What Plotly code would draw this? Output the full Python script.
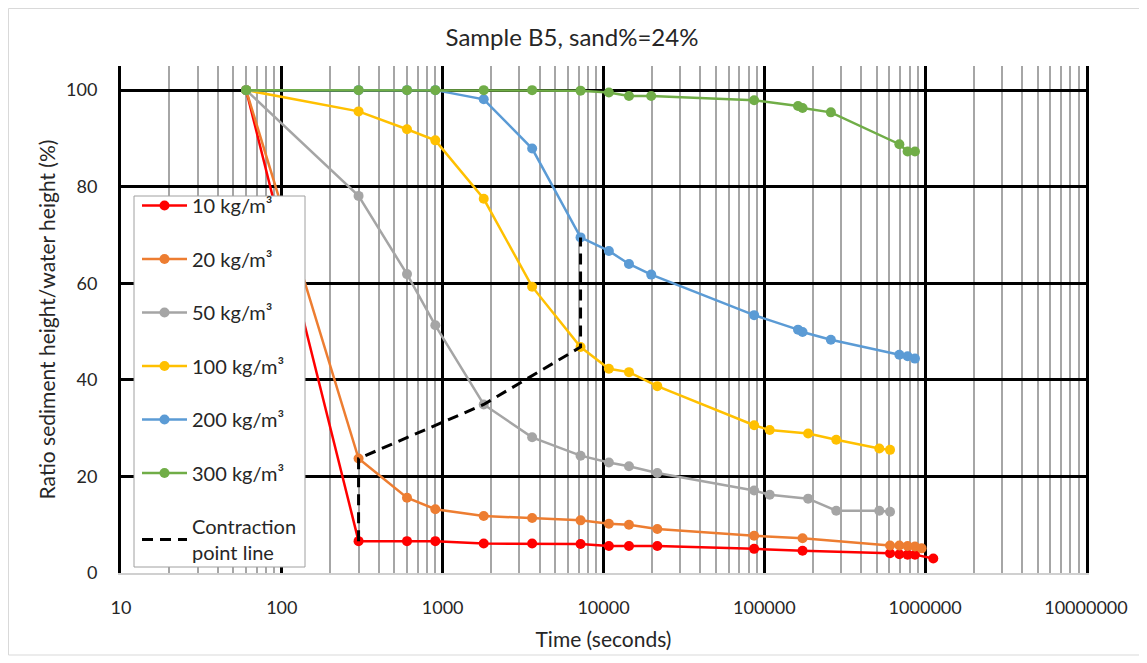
import plotly.graph_objects as go

# ---- data ----
t_red = [60, 300, 600, 900, 1800, 3600, 7200, 10800, 14400, 21600, 86400, 172800, 604800, 691200, 777600, 864000, 1123200]
v_red = [100, 6.6, 6.6, 6.6, 6.1, 6.1, 6.0, 5.6, 5.6, 5.6, 5.0, 4.6, 4.1, 3.9, 3.8, 3.8, 3.0]

t_orange = [60, 300, 600, 900, 1800, 3600, 7200, 10800, 14400, 21600, 86400, 172800, 604800, 691200, 777600, 864000, 950400]
v_orange = [100, 23.7, 15.6, 13.2, 11.8, 11.4, 10.9, 10.2, 10.0, 9.1, 7.7, 7.2, 5.7, 5.7, 5.6, 5.5, 5.1]

t_gray = [60, 300, 600, 900, 1800, 3600, 7200, 10800, 14400, 21600, 86400, 108000, 187200, 280000, 518400, 604800]
v_gray = [100, 78.1, 61.9, 51.3, 34.9, 28.1, 24.3, 22.9, 22.1, 20.7, 17.1, 16.2, 15.4, 12.9, 12.9, 12.7]

t_yellow = [60, 300, 600, 900, 1800, 3600, 7200, 10800, 14400, 21600, 86400, 108000, 187200, 280000, 518400, 604800]
v_yellow = [100, 95.6, 91.9, 89.6, 77.5, 59.3, 46.8, 42.3, 41.6, 38.7, 30.6, 29.6, 28.9, 27.6, 25.8, 25.5]

t_blue = [60, 300, 600, 900, 1800, 3600, 7200, 10800, 14400, 19800, 86400, 162000, 172800, 259200, 691200, 777600, 864000]
v_blue = [100, 100, 100, 100, 98.1, 87.9, 69.5, 66.7, 64.0, 61.8, 53.4, 50.4, 49.9, 48.3, 45.2, 44.9, 44.4]

t_green = [60, 300, 600, 900, 1800, 3600, 7200, 10800, 14400, 19800, 86400, 162000, 172800, 259200, 691200, 777600, 864000]
v_green = [100, 100, 100, 100, 100, 100, 99.9, 99.5, 98.8, 98.8, 97.9, 96.7, 96.3, 95.4, 88.8, 87.3, 87.3]

t_contraction = [300, 300, 1800, 7200, 7200]
v_contraction = [6.6, 23.7, 34.9, 46.8, 69.5]

series_names = ["10 kg/m³", "20 kg/m³", "50 kg/m³", "100 kg/m³", "200 kg/m³", "300 kg/m³"]
contraction_name = "Contraction<br>point line"

x_tickvals = [10, 100, 1000, 10000, 100000, 1000000, 10000000]
x_ticktext = ["10", "100", "1000", "10000", "100000", "1000000", "10000000"]
y_tickvals = [0, 20, 40, 60, 80, 100]

# ---- figure ----
FONT = "Lato, 'Noto Sans', sans-serif"
TXT = "#262626"
colors = ["#FF0000", "#ED7D31", "#A5A5A5", "#FFC000", "#5B9BD5", "#70AD47"]
all_t = [t_red, t_orange, t_gray, t_yellow, t_blue, t_green]
all_v = [v_red, v_orange, v_gray, v_yellow, v_blue, v_green]

W, H = 1139, 655          # page body has an 8px margin
ML, MR, MT, MB = 113, 61, 58, 90
PW, PH = W - ML - MR, H - MT - MB


def px(fx):
    return (fx - ML) / PW


def py(fy):
    return 1 - (fy - MT) / PH


fig = go.Figure()
for i, (name, c, t, v) in enumerate(zip(series_names, colors, all_t, all_v)):
    fig.add_trace(go.Scatter(
        x=t, y=v, name=name, mode="lines+markers",
        line=dict(color=c, width=2.5),
        marker=dict(color=c, size=10),
        legendgroup=f"g{i}",
    ))
fig.add_trace(go.Scatter(
    x=t_contraction, y=v_contraction, name=contraction_name, mode="lines",
    line=dict(color="black", width=3, dash="11px,7px"),
    legendgroup="gc",
))

fig.update_layout(
    width=W, height=H,
    margin=dict(l=ML, r=MR, t=MT, b=MB),
    paper_bgcolor="white", plot_bgcolor="white",
    font=dict(family=FONT, size=18, color=TXT),
    title=dict(text="Sample B5, sand%=24%", x=(572 - 8) / W, xanchor="center",
               y=1 - 30 / H, yanchor="middle", font=dict(size=24, color=TXT)),
    showlegend=True,
    legend=dict(
        x=px(129), y=py(178), xanchor="left", yanchor="top",
        bgcolor="rgba(0,0,0,0)", borderwidth=0,
        font=dict(size=20, color=TXT),
        traceorder="grouped", tracegroupgap=24.5, itemwidth=45,
    ),
)

fig.update_xaxes(
    type="log", range=[1, 7],
    tickvals=x_tickvals, ticktext=x_ticktext,
    showgrid=True, gridcolor="black", gridwidth=3,
    minor=dict(dtick="D1", showgrid=True, gridcolor="#A6A6A6", gridwidth=1.5, ticks=""),
    showline=True, linecolor="#D0D0D0", linewidth=1.5,
    ticks="", ticklabelstandoff=18, tickfont=dict(size=18),
    title=dict(text="Time (seconds)", standoff=15, font=dict(size=21)),
    zeroline=False,
)
fig.update_yaxes(
    range=[0, 105], tickvals=y_tickvals,
    showgrid=True, gridcolor="black", gridwidth=3,
    showline=True, linecolor="black", linewidth=3, mirror=True,
    ticks="", ticklabelstandoff=17, tickfont=dict(size=18),
    title=dict(text="Ratio sediment height/water height (%)", standoff=5, font=dict(size=21)),
    zeroline=False,
)

# legend box (white, covering the data beneath it)
fig.add_shape(type="rect", xref="paper", yref="paper",
              x0=px(126), x1=px(297), y0=py(559), y1=py(188),
              fillcolor="white", line=dict(color="#A0A0A0", width=1), layer="above")

# outer chart border
fig.add_shape(type="rect", xref="paper", yref="paper",
              x0=px(0.5), x1=px(1132), y0=py(647), y1=py(0.5),
              line=dict(color="#D9D9D9", width=1), layer="below")

fig.write_html("out.html")
